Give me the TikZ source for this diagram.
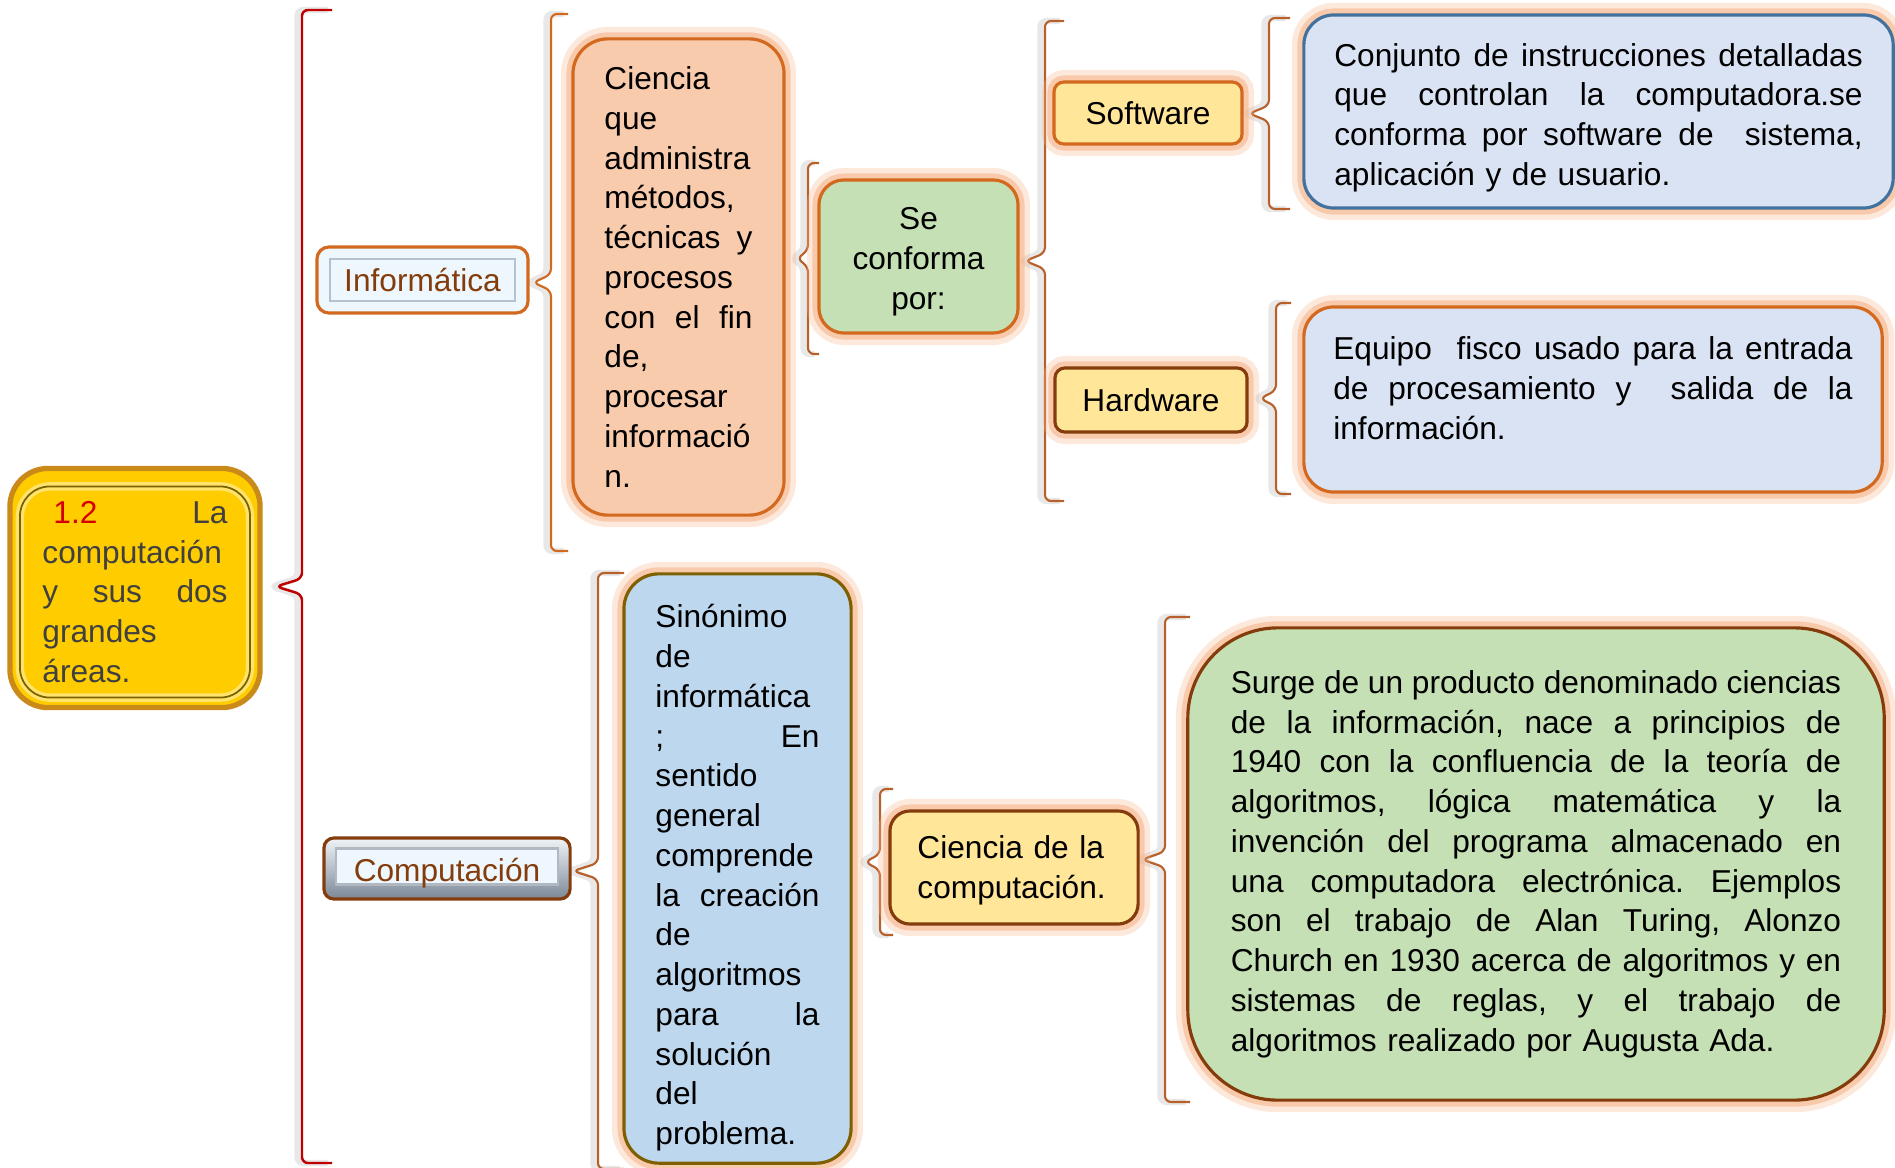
\documentclass[tikz,border=0pt]{standalone}
\usepackage{fontspec}
\setmainfont{Liberation Sans}
\usepackage{xcolor}
\usepackage{tikz}
\usetikzlibrary{calc,positioning}
\frenchspacing
\definecolor{glowc}{HTML}{F7B48A}
\definecolor{orangeline}{HTML}{D2691E}
\definecolor{brownline}{HTML}{843C0C}
\definecolor{blueline}{HTML}{41719C}
\definecolor{oliveline}{HTML}{7F6000}
\definecolor{peach}{HTML}{F8CBAD}
\definecolor{sage}{HTML}{C5E0B4}
\definecolor{butter}{HTML}{FFE699}
\definecolor{mist}{HTML}{DAE3F3}
\definecolor{sky}{HTML}{BDD7EE}
\definecolor{gold}{HTML}{FFCC00}
\definecolor{goldrim}{HTML}{C98A1A}
\definecolor{goldline}{HTML}{7A6200}
\definecolor{goldlight}{HTML}{FFE36B}
\definecolor{inkgray}{HTML}{404040}
\definecolor{numred}{HTML}{D40000}
\definecolor{tagface}{HTML}{EDF7FD}
\definecolor{tagedge}{HTML}{B4C2CF}
\definecolor{bevellight}{HTML}{F0F4F8}
\definecolor{beveldark}{HTML}{7C8898}
\definecolor{bracered}{HTML}{C00000}
\definecolor{bracebrown}{HTML}{B8602A}
\newcommand{\jline}[1]{\makebox[\hsize][s]{\spaceskip=0pt\xspaceskip=0pt #1}}
% brace: [options]{top}{bottom}{tip}{hook}
\newcommand{\curly}[5][]{%
  \draw[bracestroke,#1] ([xshift=#5]#2) -- (#2) -- ($(#2)!0.5!(#3)+(0,-8)$) -- (#4)
    -- ($(#2)!0.5!(#3)+(0,8)$) -- (#3) -- ([xshift=#5]#3);}
\tikzset{
  box/.style={rectangle, draw=orangeline, line width=0.9pt, rounded corners=0.3cm, inner sep=0pt, font=\fontsize{9}{11.3}\selectfont},
  glow/.style={preaction={draw=glowc, line width=0.24cm, draw opacity=0.3},
               preaction={draw=glowc, line width=0.13cm, draw opacity=0.6}},
  bracestroke/.style={draw=bracebrown, line width=0.6pt, rounded corners=0.06cm,
               preaction={draw=black!9, line width=1.8pt, transform canvas={xshift=-0.045cm}}},
  tagframe/.style={rectangle, rounded corners=0.12cm, line width=0.9pt, inner sep=0pt},
  tagtext/.style={rectangle, inner sep=0pt, text=brownline, font=\fontsize{9}{11.3}\selectfont},
  rootframe/.style={rectangle, fill=gold, draw=goldrim, line width=1.5pt, rounded corners=0.38cm, minimum width=2.5cm, minimum height=2.39cm},
  roottext/.style={rectangle, draw=goldline, line width=0.5pt, rounded corners=0.3cm, inner sep=0pt,
               preaction={draw=goldlight, line width=2.4pt}, text=inkgray, font=\fontsize{9}{11.3}\selectfont}
}
\begin{document}
\begin{tikzpicture}[x=0.01cm, y=-0.01cm]
  \useasboundingbox (0,0) rectangle (1895,1167);
  \clip (0,0) rectangle (1895,1167);

  % brace ends and tips
  \coordinate (areasTop) at (302,10);
  \coordinate (areasBot) at (302,1163);
  \coordinate (areasTip) at (276,586.5);
  \coordinate (infTop) at (551,14);
  \coordinate (infBot) at (551,551);
  \coordinate (infTip) at (533,282.5);
  \coordinate (defTop) at (808,163);
  \coordinate (defBot) at (808,354);
  \coordinate (defTip) at (797,258.5);
  \coordinate (partTop) at (1045,21);
  \coordinate (partBot) at (1045,501);
  \coordinate (partTip) at (1025,261);
  \coordinate (softTop) at (1269,18);
  \coordinate (softBot) at (1269,209);
  \coordinate (softTip) at (1249,113.5);
  \coordinate (hardTop) at (1276,303);
  \coordinate (hardBot) at (1276,494);
  \coordinate (hardTip) at (1260,398.5);
  \coordinate (compTop) at (598,573);
  \coordinate (compBot) at (598,1169);
  \coordinate (compTip) at (573,871);
  \coordinate (cienTop) at (880,789);
  \coordinate (cienBot) at (880,935);
  \coordinate (cienTip) at (865,862);
  \coordinate (histTop) at (1165,617);
  \coordinate (histBot) at (1165,1102);
  \coordinate (histTip) at (1142,859.5);

  \curly[draw=bracered, line width=0.7pt]{areasTop}{areasBot}{areasTip}{0.3cm}
  \curly[draw=orangeline]{infTop}{infBot}{infTip}{0.17cm}
  \curly{defTop}{defBot}{defTip}{0.11cm}
  \curly{partTop}{partBot}{partTip}{0.19cm}
  \curly{softTop}{softBot}{softTip}{0.21cm}
  \curly{hardTop}{hardBot}{hardTip}{0.15cm}
  \curly{compTop}{compBot}{compTip}{0.26cm}
  \curly{cienTop}{cienBot}{cienTip}{0.13cm}
  \curly{histTop}{histBot}{histTip}{0.25cm}

  \node[rootframe] (rootF) at (135,588) {};
  \node[roottext, minimum width=2.3cm, minimum height=2.11cm, text width=1.85cm, align=left]
    (root) at ([yshift=-0.04cm]rootF.center)
    {\jline{\hspace{0.11cm}\textcolor{numred}{1.2} La}\\computación\\\jline{y sus dos}\\grandes\\áreas.};

  \node[tagframe, fill=tagface, draw=orangeline, minimum width=2.11cm, minimum height=0.66cm] (infF) at (422.5,280) {};
  \node[tagtext, fill=tagface, draw=tagedge, line width=0.8pt, minimum width=1.85cm, minimum height=0.42cm] (inf) at (infF) {Informática};

  \node[tagframe, top color=bevellight, bottom color=beveldark, draw=brownline, rounded corners=0.1cm, minimum width=2.46cm, minimum height=0.61cm] (compF) at (447,868.5) {};
  \node[rectangle, fill=tagface, draw=beveldark!60, line width=0.6pt, minimum width=2.22cm, minimum height=0.36cm] (compFace) at ([yshift=0.02cm]compF.center) {};
  \node[tagtext] (comp) at ([yshift=-0.05cm]compF.center) {Computación};

  \node[box, glow, fill=peach, rounded corners=0.35cm, minimum width=2.11cm, minimum height=4.76cm, text width=1.48cm, align=left]
    (ciencia) at (678.5,277)
    {Ciencia\\que\\administra\\métodos,\\\jline{técnicas y}\\procesos\\\jline{con el fin}\\de,\\procesar\\informació\\n.};

  \node[box, glow, fill=sage, rounded corners=0.25cm, minimum width=1.99cm, minimum height=1.53cm, align=center]
    (seconf) at (918.5,256.5) {\rule{0pt}{0.33cm}Se\\conforma\\por:};

  \node[box, glow, fill=butter, rounded corners=0.1cm, minimum width=1.88cm, minimum height=0.62cm] (soft) at (1148,113) {Software};
  \node[box, glow, fill=butter, draw=brownline, rounded corners=0.1cm, minimum width=1.92cm, minimum height=0.64cm] (hard) at (1151,400) {Hardware};

  \node[box, glow, fill=mist, draw=blueline, minimum width=5.89cm, minimum height=1.93cm, text width=5.28cm, align=left]
    (softd) at (1598.5,111.5)
    {\rule{0pt}{0.35cm}\jline{Conjunto de instrucciones detalladas}\\\jline{que controlan la computadora.se}\\\jline{conforma por software de~ sistema,}\\aplicación y de usuario.};

  \node[box, glow, fill=mist, minimum width=5.78cm, minimum height=1.85cm, text width=5.19cm, align=left]
    (hardd) at (1593,399.5)
    {\jline{Equipo~ fisco usado para la entrada}\\\jline{de procesamiento y~ salida de la}\\información.\rule[-0.23cm]{0pt}{0.23cm}};

  \node[box, glow, fill=sky, draw=oliveline, rounded corners=0.35cm, minimum width=2.27cm, minimum height=5.89cm, text width=1.64cm, align=left]
    (sinon) at (737.5,868.5)
    {\rule{0pt}{0.42cm}Sinónimo\\de\\informática\\\jline{; En}\\sentido\\general\\comprende\\\jline{la creación}\\de\\algoritmos\\\jline{para la}\\solución\\del\\problema.};

  \node[box, glow, fill=butter, draw=brownline, rounded corners=0.2cm, minimum width=2.48cm, minimum height=1.13cm, text width=1.93cm, align=left]
    (cienc) at (1014,867.5) {\rule{0pt}{0.28cm}Ciencia de la\\computación.};

  \node[box, glow, fill=sage, draw=brownline, rounded corners=0.9cm, minimum width=6.96cm, minimum height=4.72cm, text width=6.1cm, align=left]
    (surge) at (1536,864)
    {\jline{Surge de un producto denominado ciencias}\\
     \jline{de la información, nace a principios de}\\
     \jline{1940 con la confluencia de la teoría de}\\
     \jline{algoritmos, lógica matemática y la}\\
     \jline{invención del programa almacenado en}\\
     \jline{una computadora electrónica. Ejemplos}\\
     \jline{son el trabajo de Alan Turing, Alonzo}\\
     \jline{Church en 1930 acerca de algoritmos y en}\\
     \jline{sistemas de reglas, y el trabajo de}\\
     algoritmos realizado por Augusta Ada.};
\end{tikzpicture}
\end{document}
